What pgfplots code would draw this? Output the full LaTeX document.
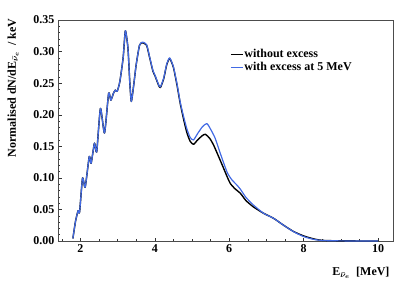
\documentclass[border=0pt]{standalone}
\usepackage{fontspec}
\setmainfont{Liberation Serif}
\usepackage{pgfplots}
\pgfplotsset{compat=1.18}
\definecolor{myblue}{RGB}{66,106,228}
\begin{document}
\begin{tikzpicture}
\begin{axis}[
  scale only axis, width=335bp, height=221bp,
  xmin=1.4, xmax=10.4, ymin=0, ymax=0.35,
  xtick={2,4,6,8,10},
  minor xtick={1.5,2.5,3,3.5,4.5,5,5.5,6.5,7,7.5,8.5,9,9.5,10.5},
  ytick={0,0.05,0.1,0.15,0.2,0.25,0.3,0.35},
  minor y tick num=4,
  xtick pos=bottom, ytick pos=left, tick align=inside,
  major tick length=3.5bp, minor tick length=2bp,
  every tick/.style={black!80},
  axis line style={black!70, line width=0.6pt},
  /pgf/number format/assume math mode=true,
  ticklabel style={font=\fontsize{12bp}{14bp}\selectfont\bfseries},
  yticklabel style={/pgf/number format/.cd, fixed, fixed zerofill, precision=2},
  xticklabel style={/pgf/number format/.cd, fixed, precision=0},
  xlabel={E$_{\bar{\nu}_{e}}$\ \ [MeV]},
  ylabel={Normalised dN/dE$_{\bar{\nu}_{e}}$\ \ / keV},
  label style={font=\fontsize{12bp}{14bp}\selectfont\bfseries\boldmath},
  xlabel style={at={(axis description cs:1,-0.145)}, anchor=east},
  ylabel style={at={(axis description cs:-0.134,1.023)}, anchor=east, rotate=0},
  legend style={draw=none, fill=none, at={(axis description cs:0.505,0.885)}, anchor=north west,
    font=\fontsize{12bp}{14bp}\selectfont\bfseries, row sep=0.3bp,
    nodes={inner sep=1pt, text height=8.5bp, text depth=2.5bp}},
  legend cell align=left,
  legend image code/.code={\draw[#1, line width=1pt] (0bp,0bp) -- (12bp,0bp);},
  every axis plot/.append style={smooth, tension=0.35, line join=round},
]
\addplot[black, line width=1.4pt] coordinates {
(1.80,0.004) (1.87,0.031) (1.94,0.048) (1.98,0.046) (2.06,0.100) (2.13,0.085)
(2.24,0.134) (2.29,0.123) (2.38,0.155) (2.44,0.141) (2.54,0.210) (2.65,0.171)
(2.76,0.234) (2.82,0.223) (2.89,0.234) (2.94,0.239) (2.99,0.237) (3.06,0.252)
(3.15,0.290) (3.21,0.333) (3.28,0.305) (3.33,0.250) (3.37,0.221) (3.43,0.245)
(3.50,0.279) (3.59,0.310) (3.67,0.314) (3.78,0.310) (3.86,0.291) (3.95,0.269)
(4.01,0.261) (4.10,0.247) (4.15,0.243) (4.24,0.257) (4.32,0.279) (4.40,0.289)
(4.50,0.275) (4.60,0.246) (4.68,0.219) (4.77,0.194) (4.86,0.172) (4.95,0.158)
(5.04,0.153) (5.15,0.160) (5.28,0.167) (5.36,0.169) (5.47,0.163) (5.58,0.152)
(5.80,0.122) (5.95,0.101) (6.03,0.091) (6.15,0.083) (6.30,0.0755) (6.45,0.064)
(6.65,0.054) (6.92,0.044) (7.19,0.036) (7.46,0.025) (7.73,0.015) (8.00,0.008)
(8.26,0.0035) (8.50,0.001) (9.00,0.0002) (10.0,0.0)
};
\addlegendentry{without excess}
\addplot[myblue, line width=1.2pt] coordinates {
(1.80,0.004) (1.87,0.031) (1.94,0.048) (1.98,0.046) (2.06,0.100) (2.13,0.085)
(2.24,0.134) (2.29,0.123) (2.38,0.155) (2.44,0.141) (2.54,0.210) (2.65,0.171)
(2.76,0.234) (2.82,0.223) (2.89,0.234) (2.94,0.239) (2.99,0.237) (3.06,0.252)
(3.15,0.290) (3.21,0.333) (3.28,0.305) (3.33,0.250) (3.37,0.221) (3.43,0.245)
(3.50,0.279) (3.59,0.310) (3.67,0.315) (3.78,0.311) (3.86,0.292) (3.95,0.270)
(4.01,0.262) (4.10,0.248) (4.15,0.244) (4.24,0.258) (4.32,0.280) (4.40,0.290)
(4.50,0.276) (4.60,0.248) (4.68,0.221) (4.77,0.198) (4.86,0.178) (4.95,0.164)
(5.04,0.160) (5.15,0.170) (5.28,0.181) (5.40,0.186) (5.50,0.177) (5.62,0.163)
(5.80,0.132) (5.95,0.108) (6.07,0.097) (6.20,0.089) (6.30,0.082) (6.45,0.069)
(6.65,0.057) (6.92,0.044) (7.19,0.036) (7.46,0.025) (7.73,0.0147) (8.00,0.007)
(8.26,0.0027) (8.50,0.0008) (9.00,0.0002) (10.0,0.0)
};
\addlegendentry{with excess at 5 MeV}
\end{axis}
\pgfresetboundingbox
\path[use as bounding box] ([shift={(-58bp,-47bp)}]current axis.south west) rectangle ([shift={(6bp,20bp)}]current axis.north east);
\end{tikzpicture}
\end{document}
